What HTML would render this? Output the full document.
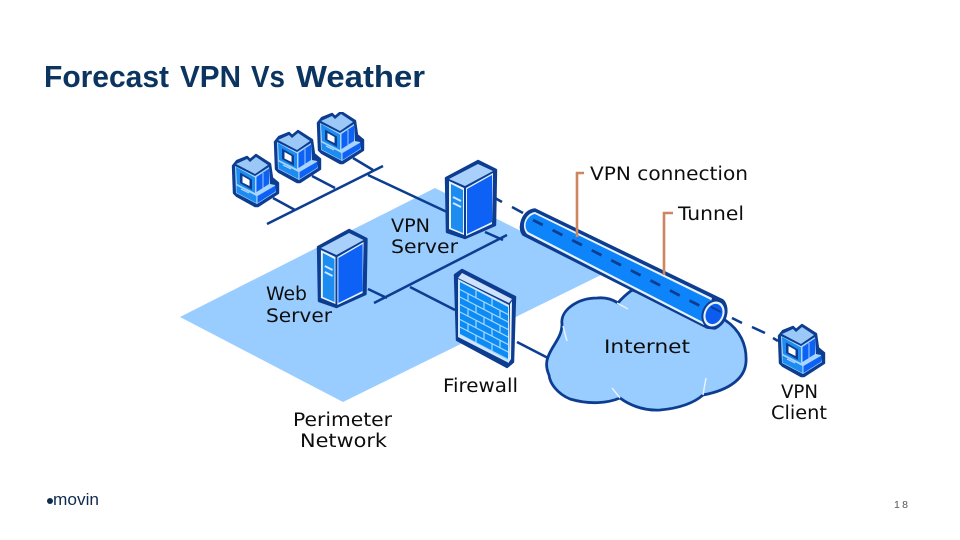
<!DOCTYPE html>
<html><head><meta charset="utf-8"><title>Forecast VPN Vs Weather</title>
<style>html,body{margin:0;padding:0;background:#fff}svg{display:block}
.l{font-family:"DejaVu Sans","Liberation Sans",sans-serif;font-size:18.5px;fill:#111}
.t{font-family:"Liberation Sans",sans-serif;font-weight:700;font-size:30.5px;fill:#0b3560}</style></head>
<body>
<svg width="960" height="540" viewBox="0 0 960 540" xmlns="http://www.w3.org/2000/svg">
<defs>
<filter id="soft" x="0" y="0" width="100%" height="100%"><feGaussianBlur stdDeviation="0.35"/></filter>
<g id="pc">
<path d="M1,11 5,6 15,2 18,5 24,0 38,9 40,23 46,28 46,38 26,51 23,51 5,41 2,38Z" fill="#0b3d91" stroke="#0b3d91" stroke-width="2.400" stroke-linejoin="round"/>
<path d="M3,11 23,21 37,12 38,29 43,30 44,37 25,49 4,38Z" fill="#a8d4ff"/>
<path d="M4,9 15,4 18,7 24,2 36,10 23,19Z" fill="#9cc8f8"/>
<path d="M4,12 23,22.500 23,38 5,29Z" fill="#1a8cf0"/>
<path d="M8,17.500 20,24.500 20,35 8,28Z" fill="#0b3d91"/>
<path d="M10.500,21 17.500,25 17.500,31 10.500,27.500Z" fill="#fff"/>
<path d="M24.500,22 37,13.500 37,29 24.500,37Z" fill="#0a62f5"/>
<path d="M31,18V33" stroke="#9cc8f8" stroke-width="1"/>
<path d="M4.500,30.500 24.300,41 24.300,48 4.500,37.500Z" fill="#1a8cf0"/>
<path d="M25.500,41 43.500,30.500 43.500,36.500 25.500,48Z" fill="#0a62f5"/>
<path d="M9,34 17,38" stroke="#bcdcff" stroke-width="1"/>
</g>
<g id="srv">
<path d="M0,17 32,0 50,9 49,64 19,77 1,71Z" fill="#0b3d91" stroke="#0b3d91" stroke-width="2.400" stroke-linejoin="round"/>
<path d="M3,18 32,3 47,10 19,25Z" fill="#a8d0fa"/>
<path d="M3,20 18,27 18,74 3,68Z" fill="#e6f2ff"/>
<path d="M5,23 17,29 17,72 5,67Z" fill="#1a8cf0"/>
<path d="M20,27 47,12 46,63 20,75Z" fill="#e6f2ff"/>
<path d="M21,28 46,14 46,61 21,73Z" fill="#0a62f5"/>
<path d="M7,36 15,40M7,42 15,46" stroke="#cfe6ff" stroke-width="2"/>
</g>
<clipPath id="fw"><path d="M460,282 508,307 508,360 460,334Z"/></clipPath>
</defs>

<rect width="960" height="540" fill="#fff"/>
<text class="t" x="44" y="87" textLength="125" lengthAdjust="spacingAndGlyphs">Forecast</text>
<text class="t" x="180" y="87" textLength="61" lengthAdjust="spacingAndGlyphs">VPN</text>
<text class="t" x="251" y="87" textLength="34" lengthAdjust="spacingAndGlyphs">Vs</text>
<text class="t" x="296" y="87" textLength="129" lengthAdjust="spacingAndGlyphs">Weather</text>

<g filter="url(#soft)">
<path d="M435,188 605,273 343,402 180,317Z" fill="#99ccff"/>

<g fill="none" stroke="#0b3d91" stroke-width="2.500">
<path d="M267,224 383,166M273,198 295,210M312,176 335,188M353,158 373,170M368,175 447,212M495,198 502,202"/>
<path d="M512,207 523,213M732,318 742,323M752,327 765,333M773,338 778,341"/>
<path d="M374,303 507,235M485,232 503,240M368,289 387,298M410,287 455,310M517,342 548,358"/>
</g>

<path d="M548,357C552,345 562,338 562,324C560,310 578,298 597,298C607,297 613,300 618,303C622,298 628,293 632,290L725,320C740,330 747,345 746,362C745,378 730,390 703,395C695,402 682,408 660,410C642,411 628,404 620,398C608,403 590,405 570,399C558,394 550,384 549,375C546,368 546,362 548,357Z" fill="#99ccff" stroke="#0b3d91" stroke-width="2.800" stroke-linejoin="round"/>
<path d="M617,303 628,309M563,326 567,341M620,398 612,388M703,395 706,378" fill="none" stroke="#e6f2ff" stroke-width="1.500"/>

<path d="M535,209 723,300 C729,306 729,322 715,329 L707,328 523,235 C517,228 522,210 535,209Z" fill="#0b3d91" stroke="#0b3d91" stroke-width="1.500"/>
<path d="M535,212 712,298 704,325 527,234 C520,226 526,213 535,212Z" fill="#e6f2ff"/>
<path d="M535,214 711,300 703,322 528,232 C522,225 528,215 535,214Z" fill="#0d84fa"/>
<path d="M533,220 708,310" fill="none" stroke="#0b3d91" stroke-width="2.800" stroke-dasharray="11 11"/>
<ellipse cx="714" cy="314" rx="11" ry="14" transform="rotate(25 714 314)" fill="#e6f2ff" stroke="#0b3d91" stroke-width="2"/>
<ellipse cx="714" cy="314" rx="8" ry="10.500" transform="rotate(25 714 314)" fill="#0a5cf0"/>
<path d="M711,307 721,312" stroke="#0b3d91" stroke-width="2"/>

<use href="#pc" x="232" y="155"/>
<use href="#pc" x="274" y="131"/>
<use href="#pc" x="317" y="112"/>
<use href="#pc" x="778" y="325"/>
<use href="#srv" x="446" y="161"/>
<use href="#srv" transform="translate(318,230) scale(.97,1)"/>

<path d="M455,275 462,270 515,297 513,362 507,367 457,340Z" fill="#0b3d91" stroke="#0b3d91" stroke-width="2.400" stroke-linejoin="round"/>
<path d="M458,278 462,273 512,299 509,303Z" fill="#cfe3fb"/>
<path d="M458,279 509,305 509,363 458,337Z" fill="#cfe6ff"/>
<path d="M510,304 512,301 511,359 509,362Z" fill="#e6f2ff"/>
<path d="M460,282 508,307 508,360 460,334Z" fill="#0d8bf5"/>
<g clip-path="url(#fw)" fill="none" stroke="#a8d8ff" stroke-width="1.200">
<path d="M460,289.500 510,315.500M460,297 510,323M460,304.500 510,330.500M460,312 510,338M460,319.500 510,345.500M460,327 510,353M460,334.500 510,360.500"/>
<path d="M476,290.300V297.800M492,298.600V306.100M468,293.700V301.200M484,302V309.500M500,310.300V317.800M476,305.300V312.800M492,313.600V321.100M468,308.700V316.200M484,317V324.500M500,325.300V332.800M476,320.300V327.800M492,328.600V336.100M468,323.700V331.200M484,332V339.500M500,340.300V347.800M476,335.300V342.800M492,343.600V351.100M468,338.700V346.200M484,347V354.500M500,355.300V362.800"/>
</g>

<g fill="none" stroke="#cc8660" stroke-width="2.600">
<path d="M584,173H577V237"/>
<path d="M673,213H664V275"/>
</g>

<text class="l" x="590" y="180" textLength="158" lengthAdjust="spacingAndGlyphs">VPN connection</text>
<text class="l" x="678" y="220" textLength="66" lengthAdjust="spacingAndGlyphs">Tunnel</text>
<text class="l" x="391" y="232" textLength="39" lengthAdjust="spacingAndGlyphs">VPN</text>
<text class="l" x="391" y="253" textLength="67" lengthAdjust="spacingAndGlyphs">Server</text>
<text class="l" x="266" y="300" textLength="41" lengthAdjust="spacingAndGlyphs">Web</text>
<text class="l" x="266" y="322" textLength="66" lengthAdjust="spacingAndGlyphs">Server</text>
<text class="l" x="443" y="392" textLength="75" lengthAdjust="spacingAndGlyphs">Firewall</text>
<text class="l" x="293" y="426" textLength="99" lengthAdjust="spacingAndGlyphs">Perimeter</text>
<text class="l" x="300" y="447" textLength="87" lengthAdjust="spacingAndGlyphs">Network</text>
<text class="l" x="604" y="353" textLength="86" lengthAdjust="spacingAndGlyphs">Internet</text>
<text class="l" x="781" y="398" textLength="37" lengthAdjust="spacingAndGlyphs">VPN</text>
<text class="l" x="771" y="419" textLength="56" lengthAdjust="spacingAndGlyphs">Client</text>
</g>

<circle cx="50" cy="501" r="3" fill="#0e2c50"/>
<text x="53" y="505" font-family="Liberation Sans,sans-serif" font-size="17" fill="#0e2c50" textLength="46" lengthAdjust="spacingAndGlyphs">movin</text>
<text x="894" y="508" font-family="Liberation Sans,sans-serif" font-size="10.500" fill="#555" textLength="14">18</text>
</svg>
</body></html>
